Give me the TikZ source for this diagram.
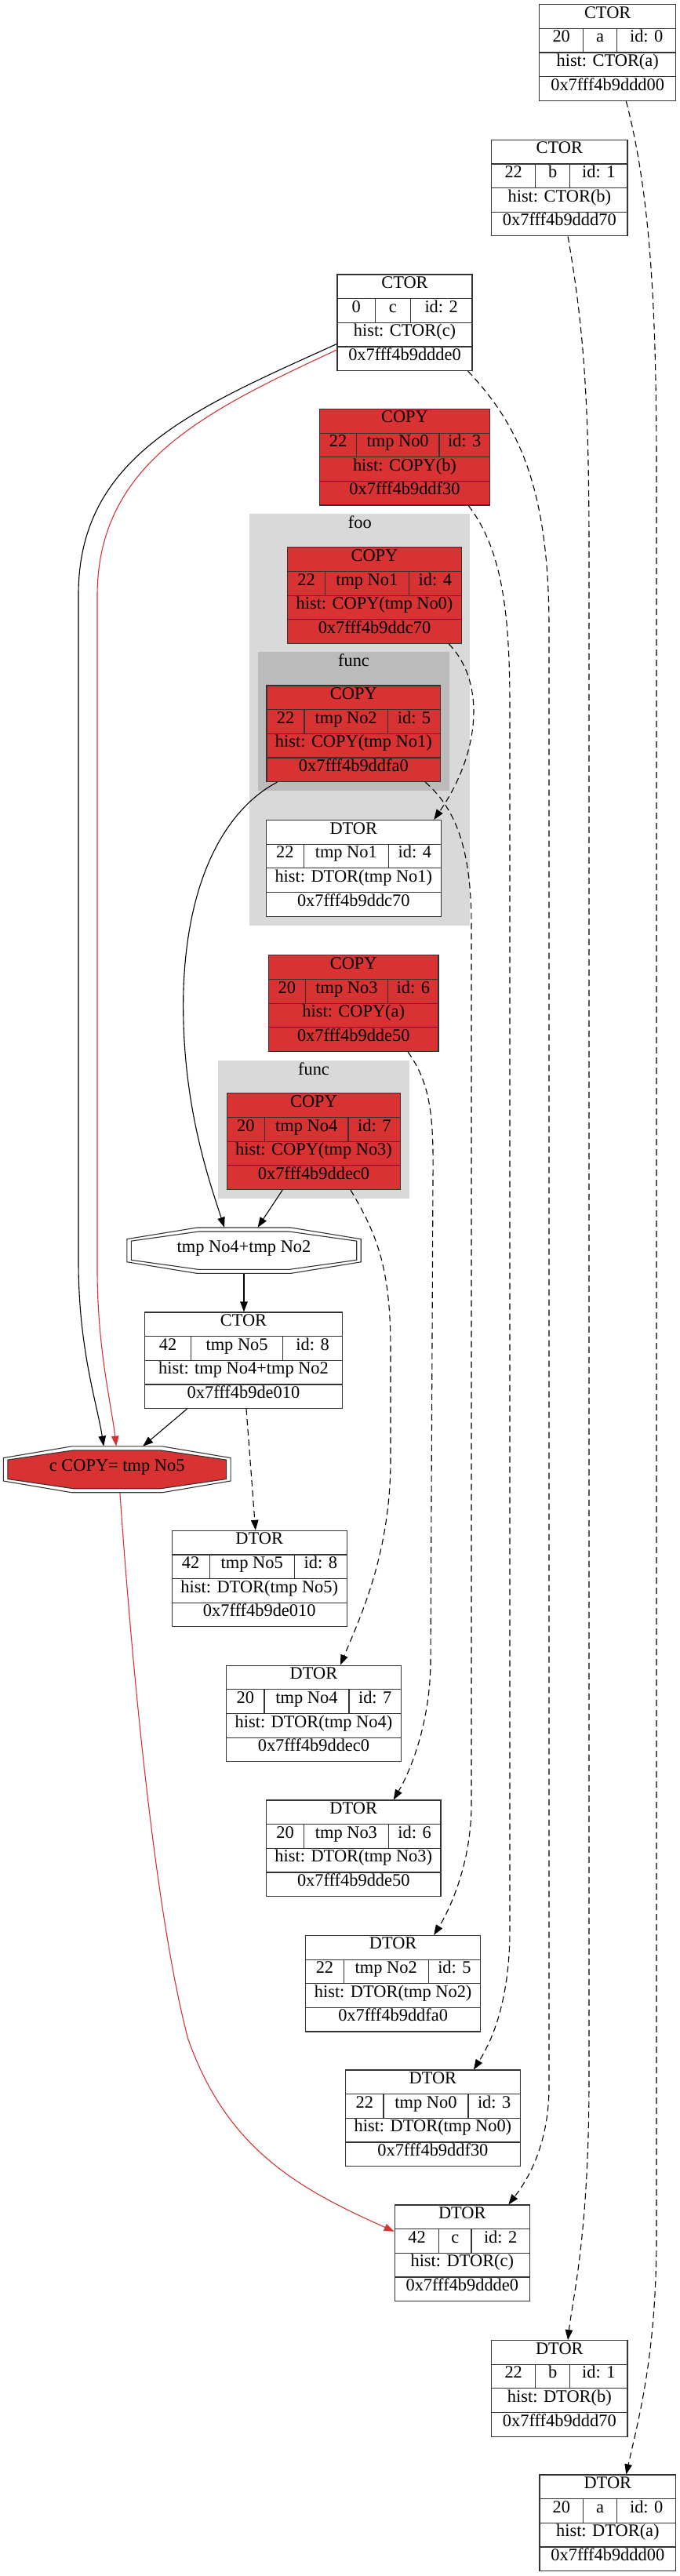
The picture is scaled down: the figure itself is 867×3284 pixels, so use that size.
\documentclass[tikz,border=0pt]{standalone}
\usepackage{fontspec}
\setmainfont{Liberation Serif}
\usetikzlibrary{arrows.meta}

\definecolor{copyred}{HTML}{D83232}
\definecolor{outergray}{HTML}{D9D9D9}
\definecolor{innergray}{HTML}{BBBBBB}

% record: name, fill, left, top, right, title, history, address
\newcommand{\recbox}[8]{%
  \def\recN{#1}\def\recL{#3}\def\recT{#4}\def\recR{#5}%
  \node[rec, fill=#2, minimum width={#5-#3}] (#1) at ({(#3+#5)/2},{#4+61.3}) {};
  \foreach \k in {1,2,3}
    \draw[recline] (#3,{#4+30.65*\k}) -- (#5,{#4+30.65*\k});
  \node[txt] (#1-t) at ({(#3+#5)/2},{#4+15.3}) {#6};
  \node[txt] (#1-h) at ({(#3+#5)/2},{#4+76.6}) {#7};
  \node[txt] (#1-a) at ({(#3+#5)/2},{#4+107.3}) {#8};
}
% middle row of the last record: two dividers, value, variable, id
\newcommand{\reccells}[5]{%
  \draw[recline] (#1,{\recT+30.65}) -- (#1,{\recT+61.3});
  \draw[recline] (#2,{\recT+30.65}) -- (#2,{\recT+61.3});
  \node[txt] (\recN-v) at ({(\recL+#1)/2},{\recT+46}) {#3};
  \node[txt] (\recN-n) at ({(#1+#2)/2},{\recT+46}) {#4};
  \node[txt] (\recN-i) at ({(#2+\recR)/2},{\recT+46}) {#5};
}
% double octagon: centre x, centre y, half width, half height, inner fill
\newcommand{\octo}[5]{%
  \begin{scope}[shift={(#1,#2)}]
    \foreach \d/\f in {0/white,5/#5} {
      \pgfmathsetmacro\w{#3-1.1*\d}
      \pgfmathsetmacro\h{#4-\d}
      \draw[recline, fill=\f] ({-0.4*\w},{-\h}) -- ({0.4*\w},{-\h}) -- (\w,{-0.5*\h})
        -- (\w,{0.5*\h}) -- ({0.4*\w},\h) -- ({-0.4*\w},\h) -- ({-\w},{0.5*\h})
        -- ({-\w},{-0.5*\h}) -- cycle;
    }
  \end{scope}}

\begin{document}
\begin{tikzpicture}[x=1pt, y=-1pt, font=\fontsize{22.4}{26}\selectfont,
    rec/.style={draw=black!80, line width=1.1pt, minimum height=122.6, inner sep=0pt},
    recline/.style={draw=black!80, line width=1.1pt},
    txt/.style={inner sep=0pt, text height=0.7em, text depth=0.25em},
    flow/.style={line width=1.1pt, -{Triangle[length=13pt,width=9.5pt]}},
    life/.style={flow, dash pattern=on 8pt off 5pt},
    redflow/.style={flow, copyred}]
    \useasboundingbox (0,0) rectangle (867,3284);

    % clusters
    \fill[outergray] (318.3,655.4) rectangle (599.3,1180);
    \node[txt] (fooLabel) at (458.8,671) {foo};
    \fill[innergray] (329.3,831.3) rectangle (572.7,1008);
    \node[txt] (funcLabel) at (451,847.7) {func};
    \fill[outergray] (277.9,1351.5) rectangle (522.1,1528);
    \node[txt] (funcLabelB) at (400,1368.5) {func};

    % constructors and copies
    \recbox{ctorA}{white}{687.7}{5.7}{861.7}{CTOR}{hist: CTOR(a)}{0x7fff4b9ddd00}
    \reccells{743.7}{786.7}{20}{a}{id: 0}
    \recbox{ctorB}{white}{626.7}{178.3}{800}{CTOR}{hist: CTOR(b)}{0x7fff4b9ddd70}
    \reccells{682.7}{726.7}{22}{b}{id: 1}
    \recbox{ctorC}{white}{430}{350}{602}{CTOR}{hist: CTOR(c)}{0x7fff4b9ddde0}
    \reccells{478.3}{523.3}{0}{c}{id: 2}
    \recbox{copyNo0}{copyred}{407.7}{521.4}{624.3}{COPY}{hist: COPY(b)}{0x7fff4b9ddf30}
    \reccells{454.3}{560}{22}{tmp No0}{id: 3}
    \recbox{copyNo1}{copyred}{366.7}{697.8}{588.3}{COPY}{hist: COPY(tmp No0)}{0x7fff4b9ddc70}
    \reccells{414.3}{521.3}{22}{tmp No1}{id: 4}
    \recbox{copyNo2}{copyred}{340}{874}{561.7}{COPY}{hist: COPY(tmp No1)}{0x7fff4b9ddfa0}
    \reccells{388}{494.3}{22}{tmp No2}{id: 5}
    \recbox{dtorNo1}{white}{339.3}{1045.5}{562.3}{DTOR}{hist: DTOR(tmp No1)}{0x7fff4b9ddc70}
    \reccells{387.3}{495.3}{22}{tmp No1}{id: 4}
    \recbox{copyNo3}{copyred}{342.5}{1217.9}{559}{COPY}{hist: COPY(a)}{0x7fff4b9dde50}
    \reccells{389.3}{494.6}{20}{tmp No3}{id: 6}
    \recbox{copyNo4}{copyred}{289.3}{1393.9}{510.7}{COPY}{hist: COPY(tmp No3)}{0x7fff4b9ddec0}
    \reccells{337.5}{444}{20}{tmp No4}{id: 7}

    % operators
    \octo{311}{1594.2}{149.2}{29.2}{white}
    \node[txt, minimum width=298.4, minimum height=58.4] (sum) at (311,1594.2) {tmp No4+tmp No2};
    \recbox{ctorNo5}{white}{184.5}{1673}{436.5}{CTOR}{hist: tmp No4+tmp No2}{0x7fff4b9de010}
    \reccells{243.5}{360.7}{42}{tmp No5}{id: 8}
    \octo{149.2}{1873.3}{144.9}{29.4}{copyred}
    \node[txt, minimum width=289.8, minimum height=58.8] (assign) at (149.2,1873.3) {c COPY= tmp No5};

    % destructors
    \recbox{dtorNo5}{white}{219.1}{1951.3}{442.4}{DTOR}{hist: DTOR(tmp No5)}{0x7fff4b9de010}
    \reccells{267.2}{375.2}{42}{tmp No5}{id: 8}
    \recbox{dtorNo4}{white}{288.5}{2123.2}{511.4}{DTOR}{hist: DTOR(tmp No4)}{0x7fff4b9ddec0}
    \reccells{337}{445}{20}{tmp No4}{id: 7}
    \recbox{dtorNo3}{white}{339.5}{2295}{562}{DTOR}{hist: DTOR(tmp No3)}{0x7fff4b9dde50}
    \reccells{387.6}{495.2}{20}{tmp No3}{id: 6}
    \recbox{dtorNo2}{white}{389.7}{2467.4}{612.6}{DTOR}{hist: DTOR(tmp No2)}{0x7fff4b9ddfa0}
    \reccells{438.2}{546.2}{22}{tmp No2}{id: 5}
    \recbox{dtorNo0}{white}{440.5}{2639}{663.3}{DTOR}{hist: DTOR(tmp No0)}{0x7fff4b9ddf30}
    \reccells{489}{597}{22}{tmp No0}{id: 3}
    \recbox{dtorC}{white}{503.3}{2811}{675.3}{DTOR}{hist: DTOR(c)}{0x7fff4b9ddde0}
    \reccells{559.7}{601}{42}{c}{id: 2}
    \recbox{dtorB}{white}{626.7}{2983.6}{800}{DTOR}{hist: DTOR(b)}{0x7fff4b9ddd70}
    \reccells{682.7}{726.7}{22}{b}{id: 1}
    \recbox{dtorA}{white}{688}{3155}{861.7}{DTOR}{hist: DTOR(a)}{0x7fff4b9ddd00}
    \reccells{743.7}{786.7}{20}{a}{id: 0}

    % data flow
    \draw[flow] ([yshift=-89pt]ctorC.north west) .. controls (250,520) and (100,580) .. (100,758)
        -- (100,1608) .. controls (100,1720) and (124,1790) .. ([xshift=-17pt]assign.north);
    \draw[redflow] ([yshift=-96.5pt]ctorC.north west) .. controls (262,524) and (124,590) .. (124,760)
        -- (124,1618) .. controls (124,1720) and (142,1790) .. ([xshift=-1pt]assign.north);
    \draw[flow] ([xshift=14pt]copyNo2.south west) .. controls (300,1025) and (240,1100) .. (234,1260)
        .. controls (230,1400) and (265,1500) .. ([xshift=-25pt]sum.north);
    \draw[flow] ([xshift=71.4pt]copyNo4.south west) -- ([xshift=17.6pt]sum.north);
    \draw[flow] (sum.south) -- (sum.south |- ctorNo5.north);
    \draw[flow] ([xshift=54.5pt]ctorNo5.south west) -- ([xshift=33pt]assign.north);
    \draw[redflow] ([xshift=3.7pt]assign.south) .. controls (170,2150) and (200,2450) .. (240,2600)
        .. controls (290,2740) and (380,2790) .. ([yshift=-34.3pt]dtorC.north west);

    % lifetimes
    \draw[life] ([xshift=23.6pt]ctorA.south) .. controls (830,250) and (837,400) .. (837,600)
        -- (837,2850) .. controls (837,3000) and (815,3080) .. ([xshift=23.5pt]dtorA.north);
    \draw[life] ([xshift=10.7pt]ctorB.south) .. controls (745,420) and (751,520) .. (751,700)
        -- (751,2650) .. controls (751,2850) and (730,2930) .. ([xshift=10.7pt]dtorB.north);
    \draw[life] ([xshift=-6pt]ctorC.south east) .. controls (660,540) and (700,620) .. (700,800)
        -- (700,2660) .. controls (700,2740) and (668,2785) .. ([xshift=59pt]dtorC.north);
    \draw[life] ([xshift=-27.6pt]copyNo0.south east) .. controls (640,700) and (650,780) .. (650,900)
        -- (650,2460) .. controls (650,2560) and (622,2610) .. ([xshift=52pt]dtorNo0.north);
    \draw[life] ([xshift=-16.6pt]copyNo1.south east) .. controls (620,870) and (612,960) .. ([xshift=102.5pt]dtorNo1.north);
    \draw[life] ([xshift=-20pt]copyNo2.south east) .. controls (580,1030) and (601,1080) .. (601,1180)
        -- (601,2300) .. controls (601,2380) and (570,2440) .. ([xshift=52pt]dtorNo2.north);
    \draw[life] ([xshift=-39.4pt]copyNo3.south east) .. controls (548,1380) and (553,1420) .. (552,1500)
        -- (549,2120) .. controls (548,2200) and (522,2260) .. ([xshift=51pt]dtorNo3.north);
    \draw[life] ([xshift=-64.3pt]copyNo4.south east) .. controls (482,1575) and (498,1620) .. (498,1720)
        -- (498,1860) .. controls (498,1980) and (460,2060) .. ([xshift=34pt]dtorNo4.north);
    \draw[life] ([xshift=3.5pt]ctorNo5.south) -- ([xshift=-5pt]dtorNo5.north);
\end{tikzpicture}
\end{document}
